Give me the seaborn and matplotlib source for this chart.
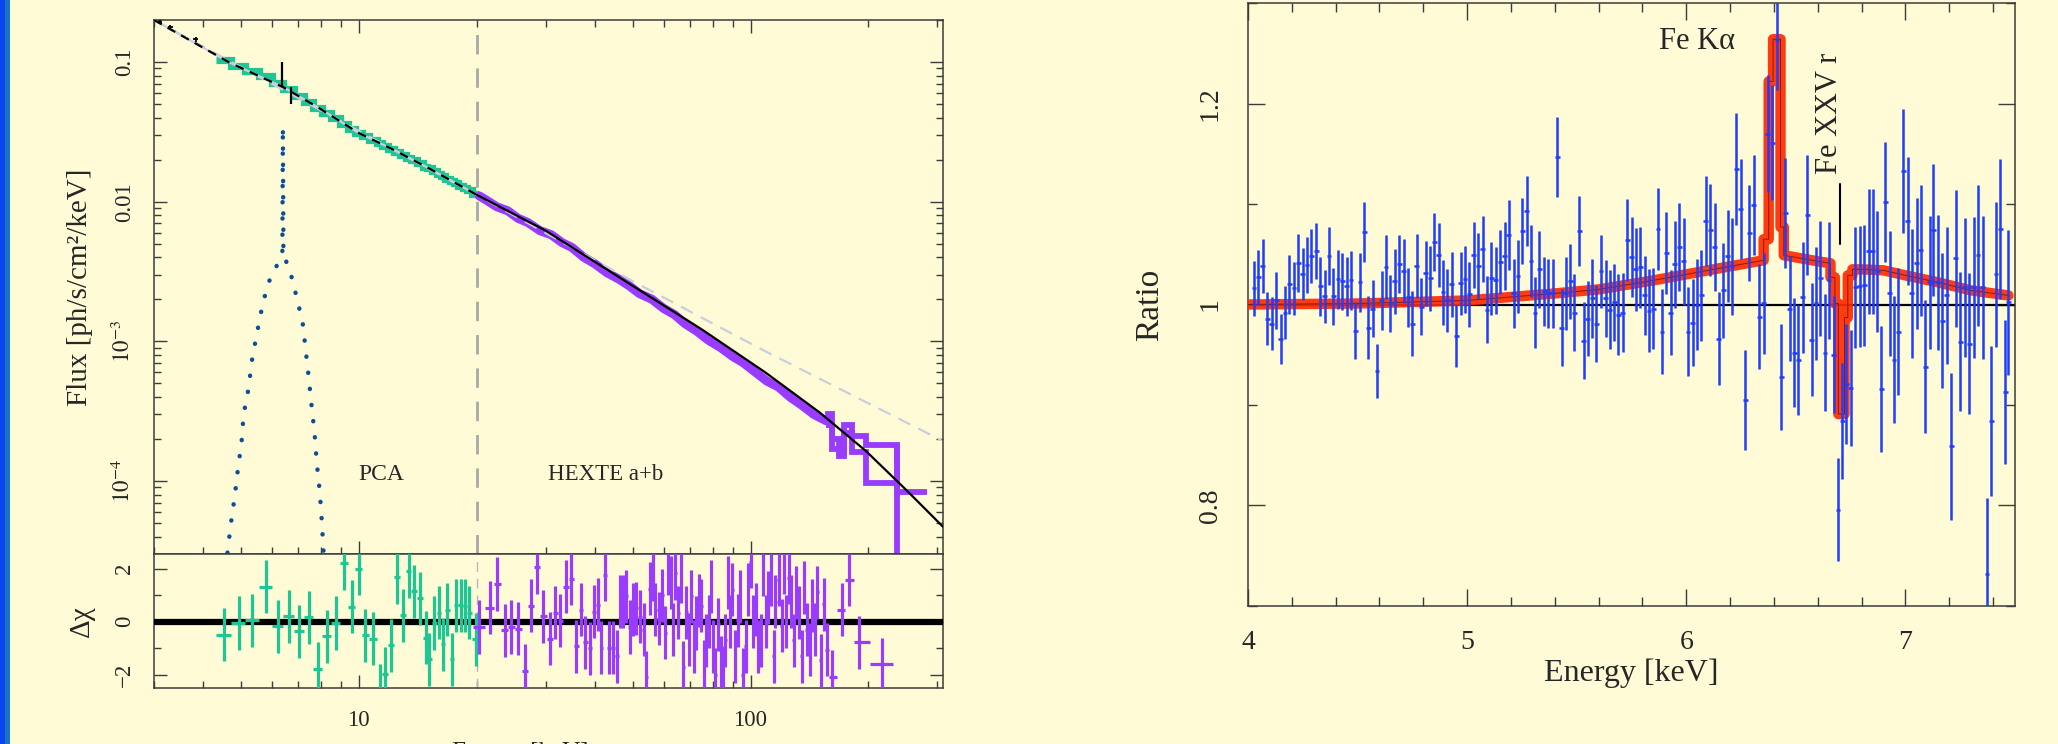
import numpy as np
import pandas as pd
import matplotlib
matplotlib.use('Agg')
import matplotlib.pyplot as plt
import seaborn as sns
from matplotlib.patches import Rectangle
from matplotlib.ticker import LogLocator, NullFormatter, MultipleLocator, FixedLocator

# ---------------- data: left panel (broad-band spectrum) ----------------
# continuum model (black) and power law without cutoff (grey dashed)
model_E = [3, 4.68, 6.42, 7.9, 10, 12.1, 14.9, 20, 30, 50, 75, 109, 150, 197, 250, 310]
model_F = [0.2, 0.099, 0.066, 0.047, 0.031, 0.024, 0.0177, 0.0112, 0.0062, 0.0025,
           0.00122, 0.00060, 0.00031, 0.000164, 0.000086, 0.000047]
pl_E = [3, 20, 50, 109, 307]
pl_F = [0.2, 0.0112, 0.0027, 0.00085, 0.000196]

# Fe line component (blue dotted)
fe_E = [4.62, 4.71, 4.82, 4.91, 5.02, 5.08, 5.23, 5.33, 5.48, 5.65, 5.85, 6.03, 6.21,
        6.38, 6.40, 6.42, 6.55, 6.70, 6.93, 7.19, 7.32, 7.45, 7.58, 7.71, 7.81, 7.95, 8.04, 8.13]
fe_F = [3.06e-5, 4.85e-5, 7.7e-5, 1.2e-4, 1.9e-4, 3.0e-4, 4.6e-4, 7.2e-4, 1.1e-3, 1.7e-3,
        2.55e-3, 3.06e-3, 3.6e-3, 4.4e-3, 0.0344, 4.4e-3, 3.6e-3, 3.06e-3, 2.1e-3, 1.35e-3,
        8.6e-4, 5.5e-4, 3.4e-4, 2.2e-4, 1.35e-4, 8.3e-5, 5.3e-5, 3.06e-5]

# PCA bins: energy, unfolded flux, residual
pca_E = [4.52, 4.93, 5.33, 5.78, 6.21, 6.62, 7.03, 7.45, 7.86, 8.28, 8.73, 9.16, 9.6, 10.0,
         10.4, 10.9, 11.3, 11.65, 12.1, 12.5, 13.0, 13.4, 13.8, 14.3, 14.8, 15.1, 15.6, 16.0,
         16.4, 16.8, 17.3, 17.7, 18.2, 18.7, 19.1, 19.9]
pca_F = [0.104, 0.094, 0.086, 0.079, 0.071, 0.064, 0.057, 0.052, 0.047, 0.043, 0.040, 0.036,
         0.033, 0.031, 0.0295, 0.0278, 0.0262, 0.0252, 0.0240, 0.0228, 0.0216, 0.0206, 0.0198,
         0.0188, 0.0178, 0.0173, 0.0165, 0.0158, 0.0152, 0.0146, 0.0140, 0.0135, 0.0130,
         0.0125, 0.0121, 0.0114]
pca_res = [-0.49, -0.05, 0.05, 1.32, -0.18, 0.2, -0.36, 0.16, -1.77, -0.55, -0.05, 2.2, 0.57,
           2.0, -0.52, -0.65, -2.6, -1.96, -0.89, 1.67, 0.24, 1.91, 1.14, 0.89, -0.61, -1.42,
           -0.05, 0.33, -0.86, 0.45, -1.42, 0.61, 0.61, 0.6, 0.33, -0.67]

# HEXTE unfolded flux and high-energy tail (a and b)
hx_E = [20.3, 21, 22.5, 24, 25.5, 27, 29, 31, 33, 35, 37.5, 40, 43, 46, 49, 52, 56, 60, 64, 68,
        73, 78, 84, 90, 96, 103, 110, 118, 126, 135, 145, 152, 156]
hx_F = [0.0110, 0.0104, 0.0092, 0.0086, 0.0076, 0.0071, 0.0062, 0.0058, 0.0051, 0.0047,
        0.0040, 0.0036, 0.0031, 0.0028, 0.0025, 0.0022, 0.0020, 0.00172, 0.00155, 0.00134,
        0.00118, 0.00102, 0.00090, 0.00078, 0.00070, 0.00060, 0.00052, 0.00047, 0.00040,
        0.00035, 0.00030, 0.00028, 0.00027]
tail_a_edges = [155.6, 158, 161, 168, 173, 182, 197, 236, 282]
tail_a_F = [2.7e-4, 3.0e-4, 2.0e-4, 1.5e-4, 2.5e-4, 2.1e-4, 1.8e-4, 8.3e-5]
tail_b_edges = [155.6, 161, 168, 173, 182, 197, 236]
tail_b_F = [2.5e-4, 1.7e-4, 1.6e-4, 2.2e-4, 1.6e-4, 9.6e-5]

# HEXTE residuals
hx_res_E = [20.27, 21.63, 22.54, 23.63, 24.48, 25.51, 26.59, 27.54, 28.53, 29.56, 30.81, 31.72,
            32.67, 33.84, 34.85, 35.89, 36.97, 37.84, 38.98, 39.90, 40.85, 41.58, 42.58, 43.59,
            44.63, 45.69, 46.50, 47.33, 48.18, 49.33, 50.21, 51.10, 52.32, 53.57, 54.20, 55.49,
            56.48, 57.15, 58.52, 59.56, 60.62, 61.71, 62.80, 63.55, 64.30, 65.45, 66.61, 67.40,
            68.60, 69.82, 70.65, 71.90, 72.75, 74.05, 74.92, 76.26, 77.16, 78.53, 79.48, 80.42,
            81.37, 82.83, 84.29, 85.29, 86.31, 87.84, 88.88, 89.94, 91.53, 92.64, 93.74, 95.40,
            97.10, 98.24, 100.0, 101.2, 103.0, 104.2, 106.1, 107.3, 109.2, 110.5, 112.5, 114.5,
            115.8, 117.9, 120.0, 121.5, 122.9, 125.1, 126.6, 128.8, 130.4, 132.7, 135.0, 136.6,
            139.1, 141.5, 143.2, 145.8, 147.5, 151.0, 153.7, 156.5, 161.1, 170.9, 178.1, 188.9,
            216.3]
hx_res = [-0.2, 0.52, 1.42, -0.32, -0.2, -0.27, -1.86, 0.6, 2.06, 0.2, -0.64, 0.33,
          0.04, 1.32, 1.61, -0.93, 0.45, -0.78, -1.0, 0.38, 0.63, -0.98, 1.76, -0.98,
          -0.98, -1.31, 0.75, 0.75, 0.95, -0.2, 0.45, 0.5, 0.19, -0.3, -2.1, 1.24,
          1.76, 0.45, 0.11, 1.0, -0.41, 2.01, 1.46, -0.3, 1.83, 0.33, 1.7, -1.72,
          0.35, -0.68, 0.95, -0.93, -0.05, 0.8, 0.6, -1.68, -0.7, 0.0, 1.32, -0.93,
          -2.0, -0.1, -1.55, -1.9, -0.7, 1.46, 0.0, 1.2, -1.3, 0.05, 0.95, -2.0,
          -0.93, 1.2, 2.25, 0.0, 0.45, -0.93, -0.7, 1.96, 0.0, 0.9, 1.6, -1.3,
          0.75, 1.58, -0.15, 2.06, 0.0, 1.65, 0.75, -0.7, 1.1, 0.35, -1.3, 1.3,
          -0.3, -1.06, 0.6, -0.3, 1.1, -1.45, 0.65, -1.06, -2.08, 0.45, 1.58, -0.77,
          -1.6]

# ---------------- data: right panel (ratio) ----------------
ratio_E = [4.027, 4.047, 4.067, 4.088, 4.108, 4.129, 4.149, 4.169, 4.189, 4.210, 4.230, 4.250,
           4.269, 4.289, 4.311, 4.329, 4.350, 4.370, 4.390, 4.411, 4.431, 4.451, 4.470, 4.490,
           4.511, 4.531, 4.549, 4.569, 4.589, 4.610, 4.630, 4.650, 4.670, 4.691, 4.711, 4.731,
           4.750, 4.770, 4.790, 4.811, 4.831, 4.851, 4.871, 4.890, 4.910, 4.930, 4.950, 4.970,
           4.990, 5.010, 5.030, 5.050, 5.071, 5.091, 5.111, 5.130,
           5.151, 5.171, 5.190, 5.212, 5.232, 5.251, 5.271, 5.291, 5.310, 5.330, 5.352, 5.371,
           5.391, 5.412, 5.432, 5.450, 5.471, 5.489, 5.511, 5.532, 5.551, 5.571, 5.589, 5.611,
           5.632, 5.651, 5.671, 5.690, 5.710, 5.730, 5.750, 5.770, 5.791, 5.811, 5.830, 5.850,
           5.871, 5.889, 5.909, 5.929, 5.948, 5.969, 5.989, 6.008, 6.029, 6.049, 6.068, 6.088,
           6.109, 6.129, 6.148, 6.168, 6.189, 6.209, 6.229, 6.248, 6.269, 6.288, 6.308,
           6.333, 6.353, 6.372, 6.393, 6.414, 6.434, 6.452, 6.472, 6.492, 6.511, 6.531, 6.553,
           6.572, 6.592, 6.612, 6.633, 6.651, 6.673, 6.692, 6.712, 6.731, 6.751, 6.772, 6.792,
           6.812, 6.832, 6.851, 6.871, 6.890, 6.909, 6.929, 6.948, 6.968, 6.990, 7.010, 7.029,
           7.051, 7.070, 7.090, 7.110, 7.128, 7.148, 7.168, 7.189, 7.209, 7.230, 7.250, 7.270,
           7.291, 7.311, 7.331, 7.352, 7.372, 7.392, 7.413, 7.433, 7.455, 7.470]
ratio_R = [1.016, 1.027, 1.038, 0.986, 0.981, 1.004, 0.966, 0.992, 1.020, 1.016, 1.041, 1.030,
           1.039, 1.048, 1.053, 1.018, 1.008, 1.048, 1.008, 1.025, 1.023, 1.018, 1.024, 0.974,
           1.022, 1.072, 0.977, 0.996, 0.934, 1.004, 1.037, 1.001, 1.023, 1.040, 1.033, 1.007,
           0.981, 1.038, 0.998, 1.031, 1.026, 1.062, 1.049, 1.012, 1.004, 1.020, 0.969, 1.021,
           1.025, 1.010, 1.049, 1.038, 1.055, 0.995, 1.026, 1.024,
           1.042, 1.048, 1.069, 1.011, 1.028, 1.073, 1.093, 1.043, 0.992, 1.035, 1.013, 1.011,
           1.011, 1.147, 0.977, 1.011, 1.023, 0.992, 1.073, 0.964, 0.986, 1.006, 0.981, 1.033,
           1.006, 0.995, 1.002, 0.990, 0.992, 1.064, 1.047, 1.035, 1.037, 1.009, 0.994, 0.996,
           1.075, 0.973, 1.051, 0.992, 1.040, 1.057, 1.043, 0.973, 0.982, 1.000, 1.009, 1.083,
           1.074, 1.057, 0.966, 1.014, 1.048, 1.038, 1.135, 1.095, 0.905, 1.071, 1.099,
           0.988, 1.001, 1.170, 1.161, 1.263, 0.928, 1.091, 0.996, 0.952, 0.945, 1.007, 1.089,
           0.965, 1.001, 1.026, 0.952, 1.024, 0.950, 0.796, 0.884, 0.921, 0.917, 1.017, 1.018,
           1.019, 1.053, 1.053, 1.033, 0.916, 1.102, 1.011, 0.945, 0.973, 1.133, 1.083, 1.011,
           1.041, 1.054, 0.938, 1.022, 1.074, 1.022, 0.984, 1.009, 0.859, 1.046, 0.963, 1.017,
           0.961, 1.017, 1.049, 1.017, 0.732, 0.884, 1.030, 1.075, 0.913, 1.002]
ratio_err = [0.027, 0.027, 0.027, 0.026, 0.026, 0.028, 0.025, 0.026, 0.029, 0.026, 0.029, 0.026,
             0.028, 0.027, 0.028, 0.029, 0.026, 0.029, 0.028, 0.029, 0.028, 0.029, 0.029, 0.028,
             0.029, 0.030, 0.031, 0.028, 0.027, 0.029, 0.032, 0.028, 0.032, 0.029, 0.032, 0.029,
             0.032, 0.032, 0.028, 0.032, 0.032, 0.029, 0.032, 0.032, 0.031, 0.032, 0.031, 0.031,
             0.033, 0.032, 0.033, 0.033, 0.033, 0.033, 0.036, 0.033,
             0.032, 0.034, 0.035, 0.034, 0.036, 0.033, 0.035, 0.036, 0.035, 0.038, 0.034, 0.034,
             0.034, 0.040, 0.038, 0.036, 0.037, 0.038, 0.035, 0.038, 0.037, 0.039, 0.038, 0.036,
             0.038, 0.039, 0.038, 0.040, 0.039, 0.041, 0.040, 0.041, 0.040, 0.039, 0.041, 0.040,
             0.041, 0.042, 0.041, 0.042, 0.043, 0.044, 0.043, 0.044, 0.043, 0.045, 0.045, 0.045,
             0.046, 0.044, 0.046, 0.047, 0.046, 0.048, 0.056, 0.050, 0.050, 0.048, 0.050,
             0.052, 0.050, 0.058, 0.057, 0.050, 0.053, 0.055, 0.052, 0.054, 0.055, 0.055, 0.060,
             0.056, 0.056, 0.057, 0.058, 0.058, 0.058, 0.051, 0.058, 0.060, 0.058, 0.060, 0.060,
             0.060, 0.062, 0.062, 0.060, 0.063, 0.060, 0.062, 0.063, 0.063, 0.062, 0.064, 0.064,
             0.065, 0.065, 0.066, 0.066, 0.066, 0.067, 0.067, 0.068, 0.073, 0.068, 0.069, 0.069,
             0.070, 0.070, 0.070, 0.071, 0.075, 0.075, 0.072, 0.070, 0.072, 0.072]

# best-fit model ratio (red)
mod_E = [4.00, 4.50, 5.00, 5.40, 5.60, 5.85, 6.15, 6.353, 6.353, 6.376, 6.376, 6.396, 6.396,
         6.430, 6.430, 6.445, 6.445, 6.600, 6.658, 6.658, 6.678, 6.678, 6.694, 6.694, 6.722,
         6.722, 6.737, 6.737, 6.758, 6.758, 6.80, 6.90, 7.00, 7.15, 7.30, 7.47]
mod_R = [1.000, 1.001, 1.004, 1.011, 1.015, 1.024, 1.036, 1.044, 1.065, 1.065, 1.222, 1.222,
         1.264, 1.264, 1.077, 1.077, 1.049, 1.043, 1.041, 1.027, 1.027, 1.001, 1.001, 0.891,
         0.891, 0.987, 0.987, 1.029, 1.029, 1.035, 1.035, 1.034, 1.029, 1.022, 1.014, 1.009]

BG = '#fffbd6'
TEAL = '#1cc795'
PURPLE = '#9a3cff'
DOTBLUE = '#0c4f98'
BLUE = '#1f3cff'
RED = '#ff2a00'


def bin_edges(c):
    c = np.asarray(c, dtype=float)
    mid = np.sqrt(c[:-1] * c[1:])
    return np.concatenate([[c[0] ** 2 / mid[0]], mid, [c[-1] ** 2 / mid[-1]]])


sns.set_theme(style='ticks')
plt.rcParams['font.family'] = ['Liberation Serif', 'DejaVu Serif']
plt.rcParams['mathtext.fontset'] = 'stix'
plt.rcParams['axes.edgecolor'] = '#3c3c3c'
plt.rcParams['axes.linewidth'] = 1.1

W, H = 2058, 744
fig = plt.figure(figsize=(W / 100, H / 100), dpi=100)
fig.patch.set_facecolor(BG)
fig.add_artist(Rectangle((0, 0), 5 / W, 1, transform=fig.transFigure,
                         facecolor='#0a46f0', edgecolor='none'))
fig.add_artist(Rectangle((5 / W, 0), 5 / W, 1, transform=fig.transFigure,
                         facecolor='#1a74c6', edgecolor='none'))

ax_top = fig.add_axes([154 / W, 1 - 554 / H, (943 - 154) / W, (554 - 20) / H])
ax_res = fig.add_axes([154 / W, 1 - 688 / H, (943 - 154) / W, (688 - 554) / H])
ax_r = fig.add_axes([1248 / W, 1 - 606 / H, (2015 - 1248) / W, (606 - 3) / H])
for a in (ax_top, ax_res, ax_r):
    a.set_facecolor(BG)

# ---------------- top-left: unfolded spectrum ----------------
ax_top.set_xscale('log')
ax_top.set_yscale('log')
ax_top.set_xlim(3, 310)
ax_top.set_ylim(3.0e-5, 0.2)

ax_top.stairs(pca_F, bin_edges(pca_E), color=TEAL, lw=5.2, baseline=None, zorder=2)
df_hx = pd.DataFrame({'E': hx_E, 'F': hx_F})
sns.lineplot(data=df_hx, x='E', y='F', ax=ax_top, color=PURPLE, lw=6.5,
             solid_capstyle='round', estimator=None, sort=False, zorder=2)
ax_top.stairs(tail_a_F, tail_a_edges, color=PURPLE, lw=4.2, baseline=None, zorder=2)
ax_top.stairs(tail_b_F, tail_b_edges, color=PURPLE, lw=4.2, baseline=None, zorder=2)
ax_top.vlines(236, 2.0e-5, 1.8e-4, color=PURPLE, lw=4.2, zorder=2)

df_pl = pd.DataFrame({'E': pl_E, 'F': pl_F})
sns.lineplot(data=df_pl, x='E', y='F', ax=ax_top, color='#c9cfdc', lw=1.6,
             linestyle=(0, (6, 4)), estimator=None, sort=False, zorder=3)
df_mod = pd.DataFrame({'E': model_E, 'F': model_F})
lo = df_mod[df_mod['E'] <= 20]
hi = df_mod[df_mod['E'] >= 20]
sns.lineplot(data=lo, x='E', y='F', ax=ax_top, color='#c9cfdc', lw=1.6,
             estimator=None, sort=False, zorder=3)
sns.lineplot(data=lo, x='E', y='F', ax=ax_top, color='black', lw=1.6,
             linestyle=(0, (4, 3)), estimator=None, sort=False, zorder=4)
sns.lineplot(data=hi, x='E', y='F', ax=ax_top, color='black', lw=1.6,
             estimator=None, sort=False, zorder=4)

df_fe = pd.DataFrame({'E': fe_E, 'F': fe_F})
sns.lineplot(data=df_fe, x='E', y='F', ax=ax_top, color=DOTBLUE, lw=3.2,
             linestyle=(0, (0.05, 3.6)), dash_capstyle='round',
             estimator=None, sort=False, zorder=3)

# black low-energy points and line errors
ax_top.errorbar([3.1, 3.3, 3.83], [0.193, 0.178, 0.146], xerr=[0.04, 0.05, 0.06],
                yerr=[0.006, 0.006, 0.006], fmt='none', ecolor='black', elinewidth=1.3, zorder=5)
ax_top.vlines([6.36, 6.7], [0.066, 0.050], [0.100, 0.066], color='black', lw=1.6, zorder=5)

ax_top.axvline(20, color='#a9a9a9', lw=2, linestyle=(0, (7, 5)), zorder=1)
ax_top.text(10, 1.12e-4, 'PCA', fontsize=17, ha='left', va='center')
ax_top.text(30.4, 1.12e-4, 'HEXTE a+b', fontsize=16.5, ha='left', va='center')

ax_top.set_yticks([1e-4, 1e-3, 1e-2, 1e-1], ['$10^{-4}$', '$10^{-3}$', '0.01', '0.1'],
                  rotation=90, va='center')
ax_top.yaxis.set_minor_locator(LogLocator(base=10, subs=np.arange(2, 10), numticks=20))
ax_top.yaxis.set_minor_formatter(NullFormatter())
ax_top.set_ylabel('Flux [ph/s/cm²/keV]', fontsize=21, labelpad=14)
ax_top.set_xlabel('')

for a in (ax_top, ax_res):
    a.xaxis.set_major_locator(FixedLocator([10, 100]))
    a.xaxis.set_minor_locator(LogLocator(base=10, subs=np.arange(2, 10), numticks=20))
    a.xaxis.set_minor_formatter(NullFormatter())
    a.tick_params(which='both', direction='in', color='#3c3c3c', width=1.0, labelsize=16.5)
    a.tick_params(which='major', length=9.5)
    a.tick_params(which='minor', length=5)
    a.tick_params(axis='y', pad=13.5)
    a.tick_params(axis='x', pad=15.5)
ax_top.tick_params(which='both', top=True, right=True, labelbottom=False)
ax_res.tick_params(which='both', top=False, right=True)

# ---------------- bottom-left: residuals ----------------
ax_res.set_xscale('log')
ax_res.set_xlim(3, 310)
ax_res.set_ylim(-2.5, 2.55)
ax_res.axhline(0, color='black', lw=4.5, zorder=3)
ax_res.axvline(20, color='#b8b8b8', lw=1.0, linestyle=(0, (7, 5)), zorder=1)

pe = bin_edges(pca_E)
ax_res.errorbar(pca_E, pca_res, xerr=[np.array(pca_E) - pe[:-1], pe[1:] - np.array(pca_E)],
                yerr=1.0, fmt='none', ecolor=TEAL, elinewidth=2.3, zorder=4)
he = bin_edges(hx_res_E)
ax_res.errorbar(hx_res_E, hx_res, xerr=[np.array(hx_res_E) - he[:-1], he[1:] - np.array(hx_res_E)],
                yerr=1.0, fmt='none', ecolor=PURPLE, elinewidth=2.3, zorder=4)

ax_res.set_yticks([-2, 0, 2], ['\u22122', '0', '2'], rotation=90, va='center')
ax_res.yaxis.set_minor_locator(FixedLocator([-1, 1]))
ax_res.set_xticks([10, 100], ['10', '100'])
ax_res.set_ylabel('Δχ', fontsize=21, labelpad=14)
ax_res.set_xlabel('')
fig.text(520 / W, -0.012, 'Energy [keV]', fontsize=18, ha='center', va='center')

# ---------------- right: data / continuum ratio ----------------
ax_r.set_xlim(4, 7.5)
ax_r.set_ylim(0.7, 1.3)
ax_r.axhline(1.0, color='black', lw=1.6, zorder=2)
df_r = pd.DataFrame({'E': mod_E, 'R': mod_R})
sns.lineplot(data=df_r, x='E', y='R', ax=ax_r, color=RED, lw=7.5, alpha=0.92,
             solid_capstyle='round', solid_joinstyle='round', estimator=None, sort=False, zorder=3)
sns.lineplot(data=df_r, x='E', y='R', ax=ax_r, color='#8c1a00', lw=0.7,
             estimator=None, sort=False, zorder=4)
ax_r.errorbar(ratio_E, ratio_R, xerr=0.011, yerr=ratio_err, fmt='none', ecolor=BLUE,
              elinewidth=1.8, zorder=5)

ax_r.text(6.05, 1.262, 'Fe Kα', fontsize=22, ha='center', va='center')
ax_r.text(6.655, 1.19, 'Fe XXV r', fontsize=22, rotation=90, ha='center', va='center')
ax_r.plot([6.70, 6.70], [1.06, 1.12], color='black', lw=1.5, zorder=6)

ax_r.set_xticks([4, 5, 6, 7], ['4', '5', '6', '7'])
ax_r.xaxis.set_minor_locator(MultipleLocator(0.2))
ax_r.set_yticks([0.8, 1.0, 1.2], ['0.8', '1', '1.2'], rotation=90, va='center')
ax_r.yaxis.set_minor_locator(MultipleLocator(0.1))
ax_r.tick_params(which='both', direction='in', top=True, right=True, color='#3c3c3c',
                 width=1.0, labelsize=20)
ax_r.tick_params(which='major', length=12.5)
ax_r.tick_params(which='minor', length=6.5)
ax_r.tick_params(axis='x', pad=17)
ax_r.tick_params(axis='y', pad=18)
ax_r.set_xlabel('Energy [keV]', fontsize=23, labelpad=3)
ax_r.set_ylabel('Ratio', fontsize=24, labelpad=24)

fig.savefig('out.png', dpi=100, facecolor=BG)
